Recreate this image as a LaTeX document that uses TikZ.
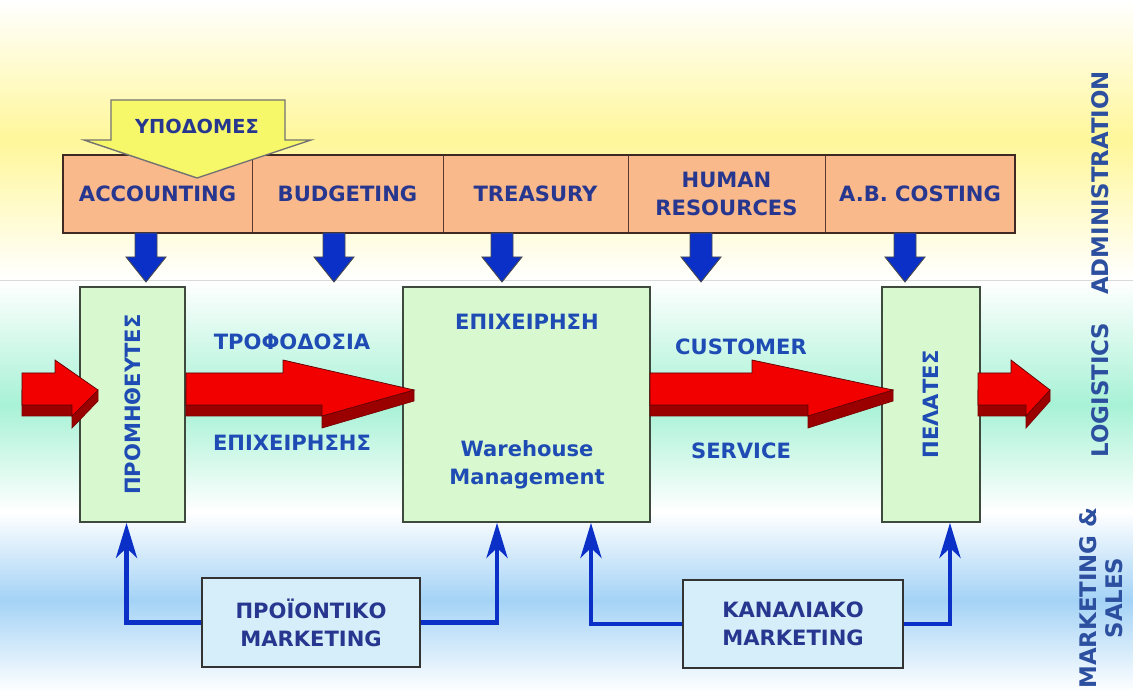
\documentclass[tikz,border=0pt]{standalone}
\usepackage{fontspec}
\setmainfont{DejaVu Sans}
\usetikzlibrary{arrows.meta}

\definecolor{cellfill}{HTML}{F9B98A}
\definecolor{cellline}{HTML}{5A3A30}
\definecolor{boxfill}{HTML}{D8F8CF}
\definecolor{boxline}{HTML}{3E4A3E}
\definecolor{mktfill}{HTML}{D6EEFA}
\definecolor{txtblue}{HTML}{27378F}
\definecolor{midblue}{HTML}{1E4CB4}
\definecolor{sideblue}{HTML}{2D4FA0}
\definecolor{arrowblue}{HTML}{0A30C8}
\definecolor{redtop}{HTML}{F20000}
\definecolor{reddark}{HTML}{9A0000}
\definecolor{yelfill}{HTML}{F7F76A}
\definecolor{bgyellow}{HTML}{FFF79A}
\definecolor{bggreen}{HTML}{A8F2D6}
\definecolor{bgblue}{HTML}{A4D3F6}

% 3d red block arrow: shaft start, upper head corner, lower head corner, tip
\newcommand{\redarrow}[4]{%
  \filldraw[reddark!80!black, fill=reddark, line width=.4pt]
    (#1,390) -- (#1,416) -- (#3,416) -- (#3,428) -- (#4,401) -- (#4,390) -- cycle;
  \filldraw[reddark!60!black, fill=redtop, line width=.4pt]
    (#1,373) -- (#2,373) -- (#2,360) -- (#4,390) -- (#3,416) -- (#3,405) -- (#1,405) -- cycle;
}

\tikzset{
  lbl/.style={font=\fontsize{12}{16}\selectfont\bfseries, text=txtblue, align=center},
  cell/.style={lbl, draw=cellline, fill=cellfill, minimum height=1.56cm, inner sep=0pt},
  box/.style={draw=boxline, fill=boxfill, line width=1pt, minimum height=4.7cm, inner sep=0pt},
  mkt/.style={lbl, draw=black!80, fill=mktfill, line width=1pt, inner sep=0pt},
  side/.style={lbl, text=sideblue, font=\fontsize{13}{15}\selectfont\bfseries, rotate=90},
  downarr/.style={draw=black!70, fill=arrowblue, line width=.5pt},
  mktline/.style={arrowblue, line width=2.8pt, -{Stealth[length=0.7cm,width=0.42cm,inset=0.2cm]}}
}

\begin{document}
\begin{tikzpicture}[x=0.02cm,y=-0.02cm]
  \useasboundingbox (0,0) rectangle (1133,692);

  % background bands
  \shade[top color=white, bottom color=bgyellow] (0,0) rectangle (1133,140);
  \shade[top color=bgyellow, bottom color=white] (0,140) rectangle (1133,280);
  \shade[top color=white, bottom color=bggreen] (0,280) rectangle (1133,405);
  \shade[top color=bggreen, bottom color=white] (0,405) rectangle (1133,512);
  \shade[top color=white, bottom color=bgblue] (0,512) rectangle (1133,600);
  \shade[top color=bgblue, bottom color=white] (0,600) rectangle (1133,692);
  \draw[black!15] (0,280) -- (1133,280);

  % administration cells
  \node[cell, minimum width=3.78cm] (acc) at (157.5,194) {ACCOUNTING};
  \node[cell, minimum width=3.82cm] (bud) at (347.5,194) {BUDGETING};
  \node[cell, minimum width=3.70cm] (tre) at (535.5,194) {TREASURY};
  \node[cell, minimum width=3.94cm] (hum) at (726.5,194) {HUMAN\\RESOURCES};
  \node[cell, minimum width=3.80cm] (abc) at (920,194) {A.B. COSTING};
  \draw[cellline!70!black, line width=1.2pt] (acc.north west) rectangle (abc.south east);

  % infrastructure arrow
  \filldraw[draw=black!55, fill=yelfill, line width=.8pt]
    (111,100) -- (285,100) -- (285,140) -- (311,140) -- (197,178) -- (84,140) -- (111,140) -- cycle;
  \node[lbl, font=\fontsize{11}{12}\selectfont\bfseries] (ypo) at (197,126) {ΥΠΟΔΟΜΕΣ};

  \foreach \x in {146,334,502,701,905}
    \filldraw[downarr] (\x-11,233) -- (\x+11,233) -- (\x+11,257) -- (\x+20,257)
      -- (\x,282) -- (\x-20,257) -- (\x-11,257) -- cycle;

  % logistics chain
  \node[box, minimum width=2.1cm] (prom) at (132.5,404.5) {};
  \node[lbl, text=midblue, rotate=90] (promt) at (prom.center) {ΠΡΟΜΗΘΕΥΤΕΣ};
  \node[box, minimum width=4.94cm] (wh) at (526.5,404.5) {};
  \node[lbl, text=midblue] (whtop) at (527,322) {ΕΠΙΧΕΙΡΗΣΗ};
  \node[lbl, text=midblue] (whbot) at (527,465) {Warehouse\\Management};
  \node[box, minimum width=1.96cm] (pel) at (931,404.5) {};
  \node[lbl, text=midblue, rotate=90] (pelt) at (pel.center) {ΠΕΛΑΤΕΣ};

  \redarrow{22}{55}{72}{98}
  \redarrow{186}{283}{322}{414}
  \redarrow{650}{752}{808}{893}
  \redarrow{978}{1011}{1026}{1050}

  \node[lbl, text=midblue] (trof) at (292,342) {ΤΡΟΦΟΔΟΣΙΑ};
  \node[lbl, text=midblue] (epix) at (292,443) {ΕΠΙΧΕΙΡΗΣΗΣ};
  \node[lbl, text=midblue] (cust) at (741,347) {CUSTOMER};
  \node[lbl, text=midblue] (serv) at (741,451) {SERVICE};

  % marketing & sales
  \node[mkt, minimum width=4.36cm, minimum height=1.78cm] (pm) at (311,622.5) {ΠΡΟΪΟΝΤΙΚΟ\\MARKETING};
  \node[mkt, minimum width=4.4cm, minimum height=1.76cm] (km) at (793,624) {ΚΑΝΑΛΙΑΚΟ\\MARKETING};

  \draw[mktline] (pm.west) -| ([xshift=-.12cm]prom.south);
  \draw[mktline] (pm.east) -| ([xshift=-.59cm]wh.south);
  \draw[mktline] (km.west) -| ([xshift=1.29cm]wh.south);
  \draw[mktline] (km.east) -| ([xshift=.38cm]pel.south);

  % side titles
  \node[side] (adm) at (1100,183) {ADMINISTRATION};
  \node[side] (logi) at (1100,390) {LOGISTICS};
  \node[side] (mks) at (1101,598) {MARKETING \&\\SALES};
\end{tikzpicture}
\end{document}
